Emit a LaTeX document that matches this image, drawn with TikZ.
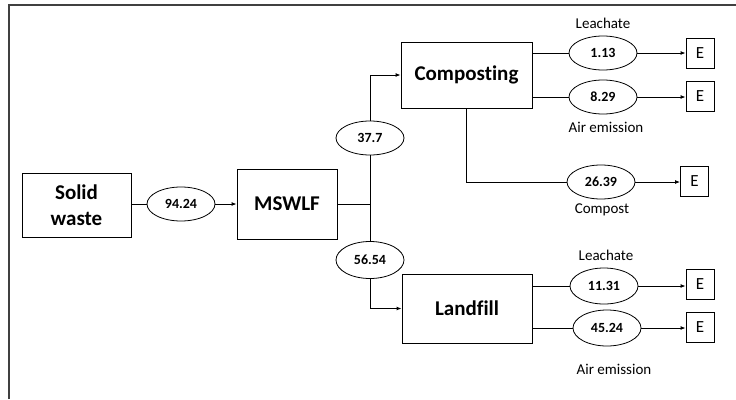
\documentclass[tikz,border=0pt]{standalone}
\usepackage{fontspec}
\setmainfont{Carlito}[Ligatures=NoCommon]
\usetikzlibrary{shapes.geometric,arrows.meta}
\tikzset{
  box/.style={draw, line width=0.9pt, inner sep=0pt, font=\fontsize{21}{24}\selectfont\bfseries},
  oval/.style={draw, ellipse, line width=0.8pt, inner sep=0pt, minimum width=68pt, minimum height=34pt, fill=white, font=\fontsize{14}{16}\selectfont\bfseries},
  ebox/.style={draw, line width=0.9pt, inner sep=0pt, minimum width=28pt, minimum height=30pt, font=\fontsize{17}{19}\selectfont},
  lbl/.style={font=\fontsize{15}{17}\selectfont, inner sep=0pt},
  conn/.style={line width=0.9pt},
  arr/.style={line width=0.9pt, -{Latex[length=5pt,width=4pt]}}
}
\begin{document}
\begin{tikzpicture}[x=1pt,y=1pt]
\useasboundingbox (0,0) rectangle (736,-399);
% frame
\draw[line width=1.2pt, black!75] (9,-399) -- (9,-5) -- (736,-5);
% main boxes
\node[box, minimum width=109pt, minimum height=64pt, align=center] (sw) at (76.5,-205) {Solid\\[2pt]waste};
\node[box, minimum width=100pt, minimum height=70pt] (msw) at (287,-204) {MSWLF};
\node[box, minimum width=131pt, minimum height=66pt] (comp) at (466.5,-75) {Composting};
\node[box, minimum width=130pt, minimum height=69pt] (land) at (467,-308.5) {Landfill};
% ovals
\node[oval] (e9424) at (181,-204) {94.24};
\node[oval] (e377) at (370,-138) {37.7};
\node[oval, minimum height=37pt] (e5654) at (370,-260) {56.54};
\node[oval] (e113) at (603,-53) {1.13};
\node[oval] (e829) at (603,-97) {8.29};
\node[oval] (e2639) at (601,-182) {26.39};
\node[oval, minimum height=36pt] (e1131) at (604,-286) {11.31};
\node[oval, minimum height=36pt] (e4524) at (607,-328) {45.24};
% E boxes
\node[ebox] (E1) at (700,-53) {E};
\node[ebox] (E2) at (700,-96.5) {E};
\node[ebox] (E3) at (694.5,-181.5) {E};
\node[ebox] (E4) at (700,-284.5) {E};
\node[ebox] (E5) at (700,-327.5) {E};
% labels
\node[lbl] (l1) at (603,-23) {Leachate};
\node[lbl] (l2) at (606,-127) {Air emission};
\node[lbl] (l3) at (602,-210) {Compost};
\node[lbl] (l4) at (606,-255) {Leachate};
\node[lbl] (l5) at (614,-369) {Air emission};
% connectors
\coordinate (j) at (370,-204);
\draw[conn] (sw.east |- e9424) -- (e9424);
\draw[arr] (e9424) -- (msw.west |- e9424);
\draw[conn] (msw.east |- j) -- (j);
\draw[conn] (j) -- (e377.south);
\draw[arr] (e377.north) |- (comp.west);
\draw[conn] (j) -- (e5654.north);
\draw[arr] (e5654.south) |- (land.west);
\draw[conn] (comp.east |- e113) -- (e113);
\draw[arr] (e113) -- (E1);
\draw[conn] (comp.east |- e829) -- (e829);
\draw[arr] (e829) -- (E2.west |- e829);
\draw[conn] (comp.south) |- (e2639.west);
\draw[arr] (e2639) -- (E3.west |- e2639);
\draw[conn] (land.east |- e1131) -- (e1131);
\draw[arr] (e1131) -- (E4.west |- e1131);
\draw[conn] (land.east |- e4524) -- (e4524);
\draw[arr] (e4524) -- (E5.west |- e4524);
\end{tikzpicture}
\end{document}
